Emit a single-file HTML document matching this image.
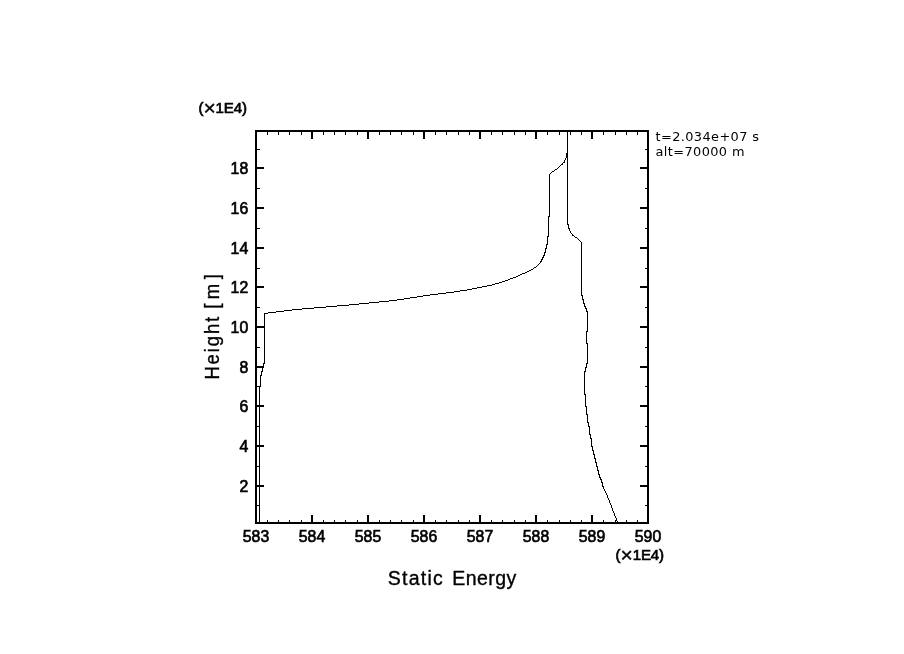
<!DOCTYPE html>
<html lang="en"><head><meta charset="utf-8"><title>Static Energy</title>
<style>
html,body{margin:0;padding:0;background:#fff;}
body{width:904px;height:654px;overflow:hidden;}
svg{display:block;}
text{font-family:"Liberation Sans",sans-serif;fill:#000;}
.tk{font-size:17.2px;stroke:#000;stroke-width:0.7px;}
.ex{font-size:15px;stroke:#000;stroke-width:0.7px;letter-spacing:-0.1px;}
.mul{font-size:21px;stroke-width:0.4px;}
.ax{font-size:19.5px;letter-spacing:0.92px;stroke:#000;stroke-width:0.35px;}
#yl{letter-spacing:1.55px;}
.an{font-family:"DejaVu Sans","Liberation Sans",sans-serif;font-size:12.9px;letter-spacing:0.4px;}
</style></head><body>
<svg width="904" height="654" viewBox="0 0 904 654">
<rect width="904" height="654" fill="#fff"/>
<g shape-rendering="crispEdges">
<rect x="256" y="131" width="392" height="392" fill="none" stroke="#000" stroke-width="2"/>
<path d="M312 132V139M312 522V515M368 132V139M368 522V515M424 132V139M424 522V515M480 132V139M480 522V515M536 132V139M536 522V515M592 132V139M592 522V515M257 168H264M647 168H640M257 208H264M647 208H640M257 248H264M647 248H640M257 287H264M647 287H640M257 327H264M647 327H640M257 367H264M647 367H640M257 406H264M647 406H640M257 446H264M647 446H640M257 486H264M647 486H640" stroke="#000" stroke-width="2" fill="none"/>
<path d="M267.5 132V135M267.5 522V520M278.5 132V135M278.5 522V520M289.5 132V135M289.5 522V520M301.5 132V135M301.5 522V520M323.5 132V135M323.5 522V520M334.5 132V135M334.5 522V520M345.5 132V135M345.5 522V520M357.5 132V135M357.5 522V520M379.5 132V135M379.5 522V520M390.5 132V135M390.5 522V520M401.5 132V135M401.5 522V520M413.5 132V135M413.5 522V520M435.5 132V135M435.5 522V520M446.5 132V135M446.5 522V520M458.5 132V135M458.5 522V520M469.5 132V135M469.5 522V520M491.5 132V135M491.5 522V520M502.5 132V135M502.5 522V520M514.5 132V135M514.5 522V520M525.5 132V135M525.5 522V520M547.5 132V135M547.5 522V520M559.5 132V135M559.5 522V520M570.5 132V135M570.5 522V520M581.5 132V135M581.5 522V520M603.5 132V135M603.5 522V520M615.5 132V135M615.5 522V520M626.5 132V135M626.5 522V520M637.5 132V135M637.5 522V520M257 149.5H260M647 149.5H645M257 188.5H260M647 188.5H645M257 228.5H260M647 228.5H645M257 268.5H260M647 268.5H645M257 307.5H260M647 307.5H645M257 347.5H260M647 347.5H645M257 386.5H260M647 386.5H645M257 426.5H260M647 426.5H645M257 466.5H260M647 466.5H645M257 505.5H260M647 505.5H645" stroke="#000" stroke-width="1" fill="none"/>
<path d="M259 386v137h1v-137zM260 375v12h1v-12zM261 371v5h1v-5zM262 367v5h1v-5zM263 363v5h1v-5zM264 313v51h1v-51zM265 313h3v1h-3zM268 312h8v1h-8zM276 311h8v1h-8zM284 310h8v1h-8zM292 309h10v1h-10zM302 308h12v1h-12zM314 307h12v1h-12zM326 306h11v1h-11zM337 305h12v1h-12zM349 304h10v1h-10zM359 303h10v1h-10zM369 302h10v1h-10zM379 301h10v1h-10zM389 300h8v1h-8zM397 299h7v1h-7zM404 298h6v1h-6zM410 297h7v1h-7zM417 296h6v1h-6zM423 295h7v1h-7zM430 294h8v1h-8zM438 293h8v1h-8zM446 292h8v1h-8zM454 291h6v1h-6zM460 290h7v1h-7zM467 289h5v1h-5zM472 288h5v1h-5zM477 287h5v1h-5zM482 286h5v1h-5zM487 285h5v1h-5zM492 284h3v1h-3zM495 283h4v1h-4zM499 282h3v1h-3zM502 281h3v1h-3zM505 280h3v1h-3zM508 279h2v1h-2zM510 278h3v1h-3zM513 277h3v1h-3zM516 276h2v1h-2zM518 275h2v1h-2zM520 274h2v1h-2zM522 273h3v1h-3zM525 272h2v1h-2zM527 271h2v1h-2zM529 270h2v1h-2zM531 269h2v1h-2zM533 268h1v1h-1zM534 267h2v1h-2zM536 266h1v1h-1zM537 265h1v1h-1zM538 264h1v1h-1zM539 263h1v1h-1zM540 261v2h1v-2zM541 259v3h1v-3zM542 257v3h1v-3zM543 255v3h1v-3zM544 252v4h1v-4zM545 248v5h1v-5zM546 244v5h1v-5zM547 236v9h1v-9zM548 216v21h1v-21zM549 174v43h1v-43zM550 173h1v1h-1zM551 172h1v1h-1zM552 171h2v1h-2zM554 170h1v1h-1zM555 169h2v1h-2zM557 168h1v1h-1zM558 167h1v1h-1zM559 166h1v1h-1zM560 165h1v1h-1zM561 164h2v1h-2zM562 163h1v1h-1zM563 162h2v1h-2zM564 160v2h1v-2zM565 158v2h1v-2zM566 153v5h1v-5z" fill="#000" stroke="none"/>
<path d="M567 131v94h1v-94zM568 224v5h1v-5zM569 228v3h1v-3zM570 231v2h1v-2zM571 233h1v1h-1zM572 234v2h1v-2zM573 235h1v1h-1zM574 236h1v1h-1zM575 237h2v1h-2zM577 238h1v1h-1zM578 239h1v1h-1zM579 240h1v1h-1zM580 241h1v1h-1zM581 242v54h1v-54zM582 295v5h1v-5zM583 299v5h1v-5zM584 303v4h1v-4zM585 306v3h1v-3zM586 308v4h1v-4zM587 311v21h1v-21zM586 331v13h1v-13zM587 343v21h1v-21zM586 363v5h1v-5zM585 367v5h1v-5zM584 371v24h1v-24zM585 394v13h1v-13zM586 406v9h1v-9zM587 414v9h1v-9zM588 422v5h1v-5zM589 426v9h1v-9zM590 434v5h1v-5zM591 438v9h1v-9zM592 446v5h1v-5zM593 450v5h1v-5zM594 454v5h1v-5zM595 458v5h1v-5zM596 462v5h1v-5zM597 466v5h1v-5zM598 470v5h1v-5zM599 474v4h1v-4zM600 477v3h1v-3zM601 479v4h1v-4zM602 482v5h1v-5zM603 486v3h1v-3zM604 489v2h1v-2zM605 491v2h1v-2zM606 493v2h1v-2zM607 495v3h1v-3zM608 498v2h1v-2zM609 500v3h1v-3zM610 503v2h1v-2zM611 505v3h1v-3zM612 508v3h1v-3zM613 511v2h1v-2zM614 513v3h1v-3zM615 516v2h1v-2zM616 518v3h1v-3zM617 521h1v1h-1z" fill="#000" stroke="none"/>
</g>
<g>
<text class="tk" transform="translate(256 542) scale(0.92 1)" text-anchor="middle">583</text>
<text class="tk" transform="translate(312 542) scale(0.92 1)" text-anchor="middle">584</text>
<text class="tk" transform="translate(368 542) scale(0.92 1)" text-anchor="middle">585</text>
<text class="tk" transform="translate(424 542) scale(0.92 1)" text-anchor="middle">586</text>
<text class="tk" transform="translate(480 542) scale(0.92 1)" text-anchor="middle">587</text>
<text class="tk" transform="translate(536 542) scale(0.92 1)" text-anchor="middle">588</text>
<text class="tk" transform="translate(592 542) scale(0.92 1)" text-anchor="middle">589</text>
<text class="tk" transform="translate(648 542) scale(0.92 1)" text-anchor="middle">590</text>
<text class="tk" transform="translate(248.2 174) scale(0.92 1)" text-anchor="end">18</text>
<text class="tk" transform="translate(248.2 214) scale(0.92 1)" text-anchor="end">16</text>
<text class="tk" transform="translate(248.2 254) scale(0.92 1)" text-anchor="end">14</text>
<text class="tk" transform="translate(248.2 293) scale(0.92 1)" text-anchor="end">12</text>
<text class="tk" transform="translate(248.2 333) scale(0.92 1)" text-anchor="end">10</text>
<text class="tk" transform="translate(248.2 373) scale(0.92 1)" text-anchor="end">8</text>
<text class="tk" transform="translate(248.2 412) scale(0.92 1)" text-anchor="end">6</text>
<text class="tk" transform="translate(248.2 452) scale(0.92 1)" text-anchor="end">4</text>
<text class="tk" transform="translate(248.2 492) scale(0.92 1)" text-anchor="end">2</text>
<text class="ex" id="e1" x="198.5" y="113">(<tspan class="mul" dy="1.9">×</tspan><tspan dy="-1.9">1E4)</tspan></text>
<text class="ex" id="e2" x="615.6" y="559.7">(<tspan class="mul" dy="1.9">×</tspan><tspan dy="-1.9">1E4)</tspan></text>
<text class="ax" id="xl"><tspan x="387.8" y="584.6" style="letter-spacing:1.26px">Static </tspan><tspan x="452.3" y="584.6" style="letter-spacing:0.42px">Energy</tspan></text>
<text class="ax" id="yl" transform="rotate(-90) scale(0.9 1)" style="font-size:20.5px"><tspan x="-421.8" y="219.2" style="letter-spacing:2.1px">Height </tspan><tspan x="-343.1" y="219.2" style="letter-spacing:5px">[m]</tspan></text>
<text class="an" id="a1" x="655.5" y="140.7">t=2.034e+07 s</text>
<text class="an" id="a2" x="655.5" y="155.8">alt=70000 m</text>
</g>
</svg>
</body></html>
